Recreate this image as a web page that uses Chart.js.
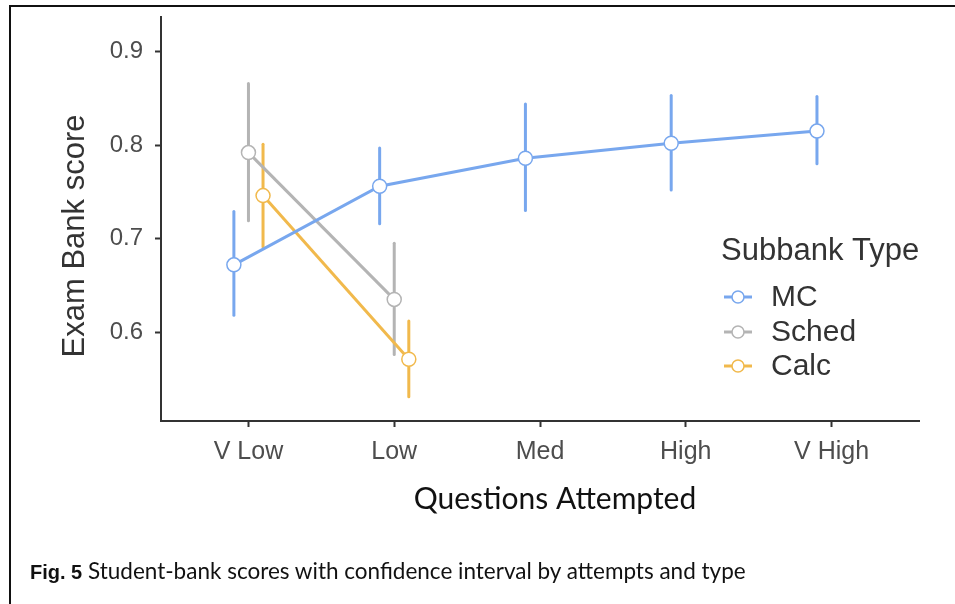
<!DOCTYPE html>
<html>
<head>
<meta charset="utf-8">
<script src="https://cdn.jsdelivr.net/npm/chart.js@4.4.1/dist/chart.umd.min.js"></script>
<style>
  html, body { margin: 0; padding: 0; background: #fff; }
  #wrap { position: relative; width: 955px; height: 604px; overflow: hidden; }
  #frame { position: absolute; left: 9px; top: 5px; width: 960px; height: 620px;
           border-top: 2.5px solid #111; border-left: 2.5px solid #111; }
  #chart { position: absolute; left: 0; top: 0; }
  #caption { position: absolute; left: 30px; top: 557px; font: 22.5px Lato, "Open Sans", sans-serif; color: #111; white-space: nowrap; }
  #caption b { font: bold 20px "Liberation Sans", Arial, sans-serif; }
</style>
</head>
<body>
<div id="wrap">
  <div id="frame"></div>
  <canvas id="chart" width="955" height="604"></canvas>
  <div id="caption"><b>Fig. 5</b> Student-bank scores with confidence interval by attempts and type</div>
</div>
<script>
const categories = ['V Low', 'Low', 'Med', 'High', 'V High'];
const yTicks = [0.6, 0.7, 0.8, 0.9];

const mcMean  = [0.672, 0.756, 0.786, 0.802, 0.815];
const mcLow   = [0.618, 0.716, 0.730, 0.752, 0.780];
const mcHigh  = [0.729, 0.797, 0.844, 0.853, 0.852];

const schedMean = [0.792, 0.635];
const schedLow  = [0.719, 0.576];
const schedHigh = [0.866, 0.695];

const calcMean = [0.746, 0.571];
const calcLow  = [0.691, 0.531];
const calcHigh = [0.801, 0.612];

const dodge = { MC: -0.1, Sched: 0, Calc: 0.1 };
const colors = { MC: '#78a7ee', Sched: '#b4b4b4', Calc: '#f1b94c' };

function series(name, mean, lo, hi) {
    return {
        label: name,
        data: mean.map((v, i) => ({ x: i + dodge[name], y: v, lo: lo[i], hi: hi[i] })),
        borderColor: colors[name],
        backgroundColor: '#fff',
        borderWidth: 3,
        pointRadius: 7,
        pointBorderWidth: 1.5,
        pointBackgroundColor: '#fff',
        pointBorderColor: colors[name],
        tension: 0
    };
}

const errorBars = {
    id: 'errorBars',
    beforeDatasetsDraw(chart) {
        const ctx = chart.ctx;
        const y = chart.scales.y;
        chart.data.datasets.forEach((ds, di) => {
            const meta = chart.getDatasetMeta(di);
            ctx.save();
            ctx.strokeStyle = ds.borderColor;
            ctx.lineWidth = 3;
            ctx.lineCap = 'round';
            ds.data.forEach((d, i) => {
                const px = meta.data[i].x;
                ctx.beginPath();
                ctx.moveTo(px, y.getPixelForValue(d.lo));
                ctx.lineTo(px, y.getPixelForValue(d.hi));
                ctx.stroke();
            });
            ctx.restore();
        });
    }
};

// legend inside the plot, plus both axis titles (placed as in the figure, a bit off centre)
const legendBox = {
    id: 'legendBox',
    afterDraw(chart) {
        const ctx = chart.ctx;
        ctx.save();
        ctx.textBaseline = 'middle';
        ctx.fillStyle = '#333';
        ctx.font = '31px "Liberation Sans", Arial, sans-serif';
        ctx.fillText('Subbank Type', 721, 251);
        ctx.font = '30px "Liberation Sans", Arial, sans-serif';
        const rows = [297, 332, 366];
        chart.data.datasets.forEach((ds, i) => {
            const yy = rows[i];
            ctx.strokeStyle = ds.borderColor;
            ctx.lineWidth = 3;
            ctx.beginPath();
            ctx.moveTo(724, yy);
            ctx.lineTo(752, yy);
            ctx.stroke();
            ctx.beginPath();
            ctx.arc(738, yy, 6, 0, Math.PI * 2);
            ctx.fillStyle = '#fff';
            ctx.fill();
            ctx.lineWidth = 1.5;
            ctx.stroke();
            ctx.fillStyle = '#333';
            ctx.fillText(ds.label, 771, yy + 1);
        });
        ctx.textAlign = 'center';
        ctx.save();
        ctx.translate(75, 236);
        ctx.rotate(-Math.PI / 2);
        ctx.font = '31px "Liberation Sans", Arial, sans-serif';
        ctx.fillText('Exam Bank score', 0, 0);
        ctx.restore();
        ctx.fillStyle = '#111';
        ctx.font = '30px Lato, "Open Sans", sans-serif';
        ctx.fillText('Questions Attempted', 555, 499);
        ctx.restore();
    }
};

new Chart(document.getElementById('chart'), {
    type: 'line',
    data: {
        datasets: [
            series('MC', mcMean, mcLow, mcHigh),
            series('Sched', schedMean, schedLow, schedHigh),
            series('Calc', calcMean, calcLow, calcHigh)
        ]
    },
    options: {
        responsive: false,
        animation: false,
        layout: { padding: { left: 58, top: 17, right: 36, bottom: 89 } },
        plugins: { legend: { display: false }, tooltip: { enabled: false } },
        scales: {
            x: {
                type: 'linear',
                min: -0.6,
                max: 4.6,
                afterBuildTicks: s => { s.ticks = categories.map((c, i) => ({ value: i })); },
                afterFit: s => { s.height = 94; s.paddingLeft = 0; s.paddingRight = 0; },
                ticks: {
                    callback: v => categories[v],
                    color: '#4d4d4d',
                    font: { family: '"Liberation Sans", Arial, sans-serif', size: 25 },
                    padding: 10,
                    maxRotation: 0
                },
                grid: { drawOnChartArea: false, drawTicks: true, tickLength: 6, tickColor: '#333', tickWidth: 2 },
                border: { display: true, color: '#333', width: 2 }
            },
            y: {
                min: 0.505,
                max: 0.937,
                afterBuildTicks: s => { s.ticks = yTicks.map(v => ({ value: v })); },
                afterFit: s => { s.width = 103; s.paddingTop = 0; s.paddingBottom = 0; },
                ticks: {
                    callback: v => v.toFixed(1),
                    color: '#4d4d4d',
                    font: { family: '"Liberation Sans", Arial, sans-serif', size: 24 },
                    padding: 12
                },
                grid: { drawOnChartArea: false, drawTicks: true, tickLength: 6, tickColor: '#333', tickWidth: 2 },
                border: { display: true, color: '#333', width: 2 }
            }
        }
    },
    plugins: [errorBars, legendBox]
});
</script>
</body>
</html>
